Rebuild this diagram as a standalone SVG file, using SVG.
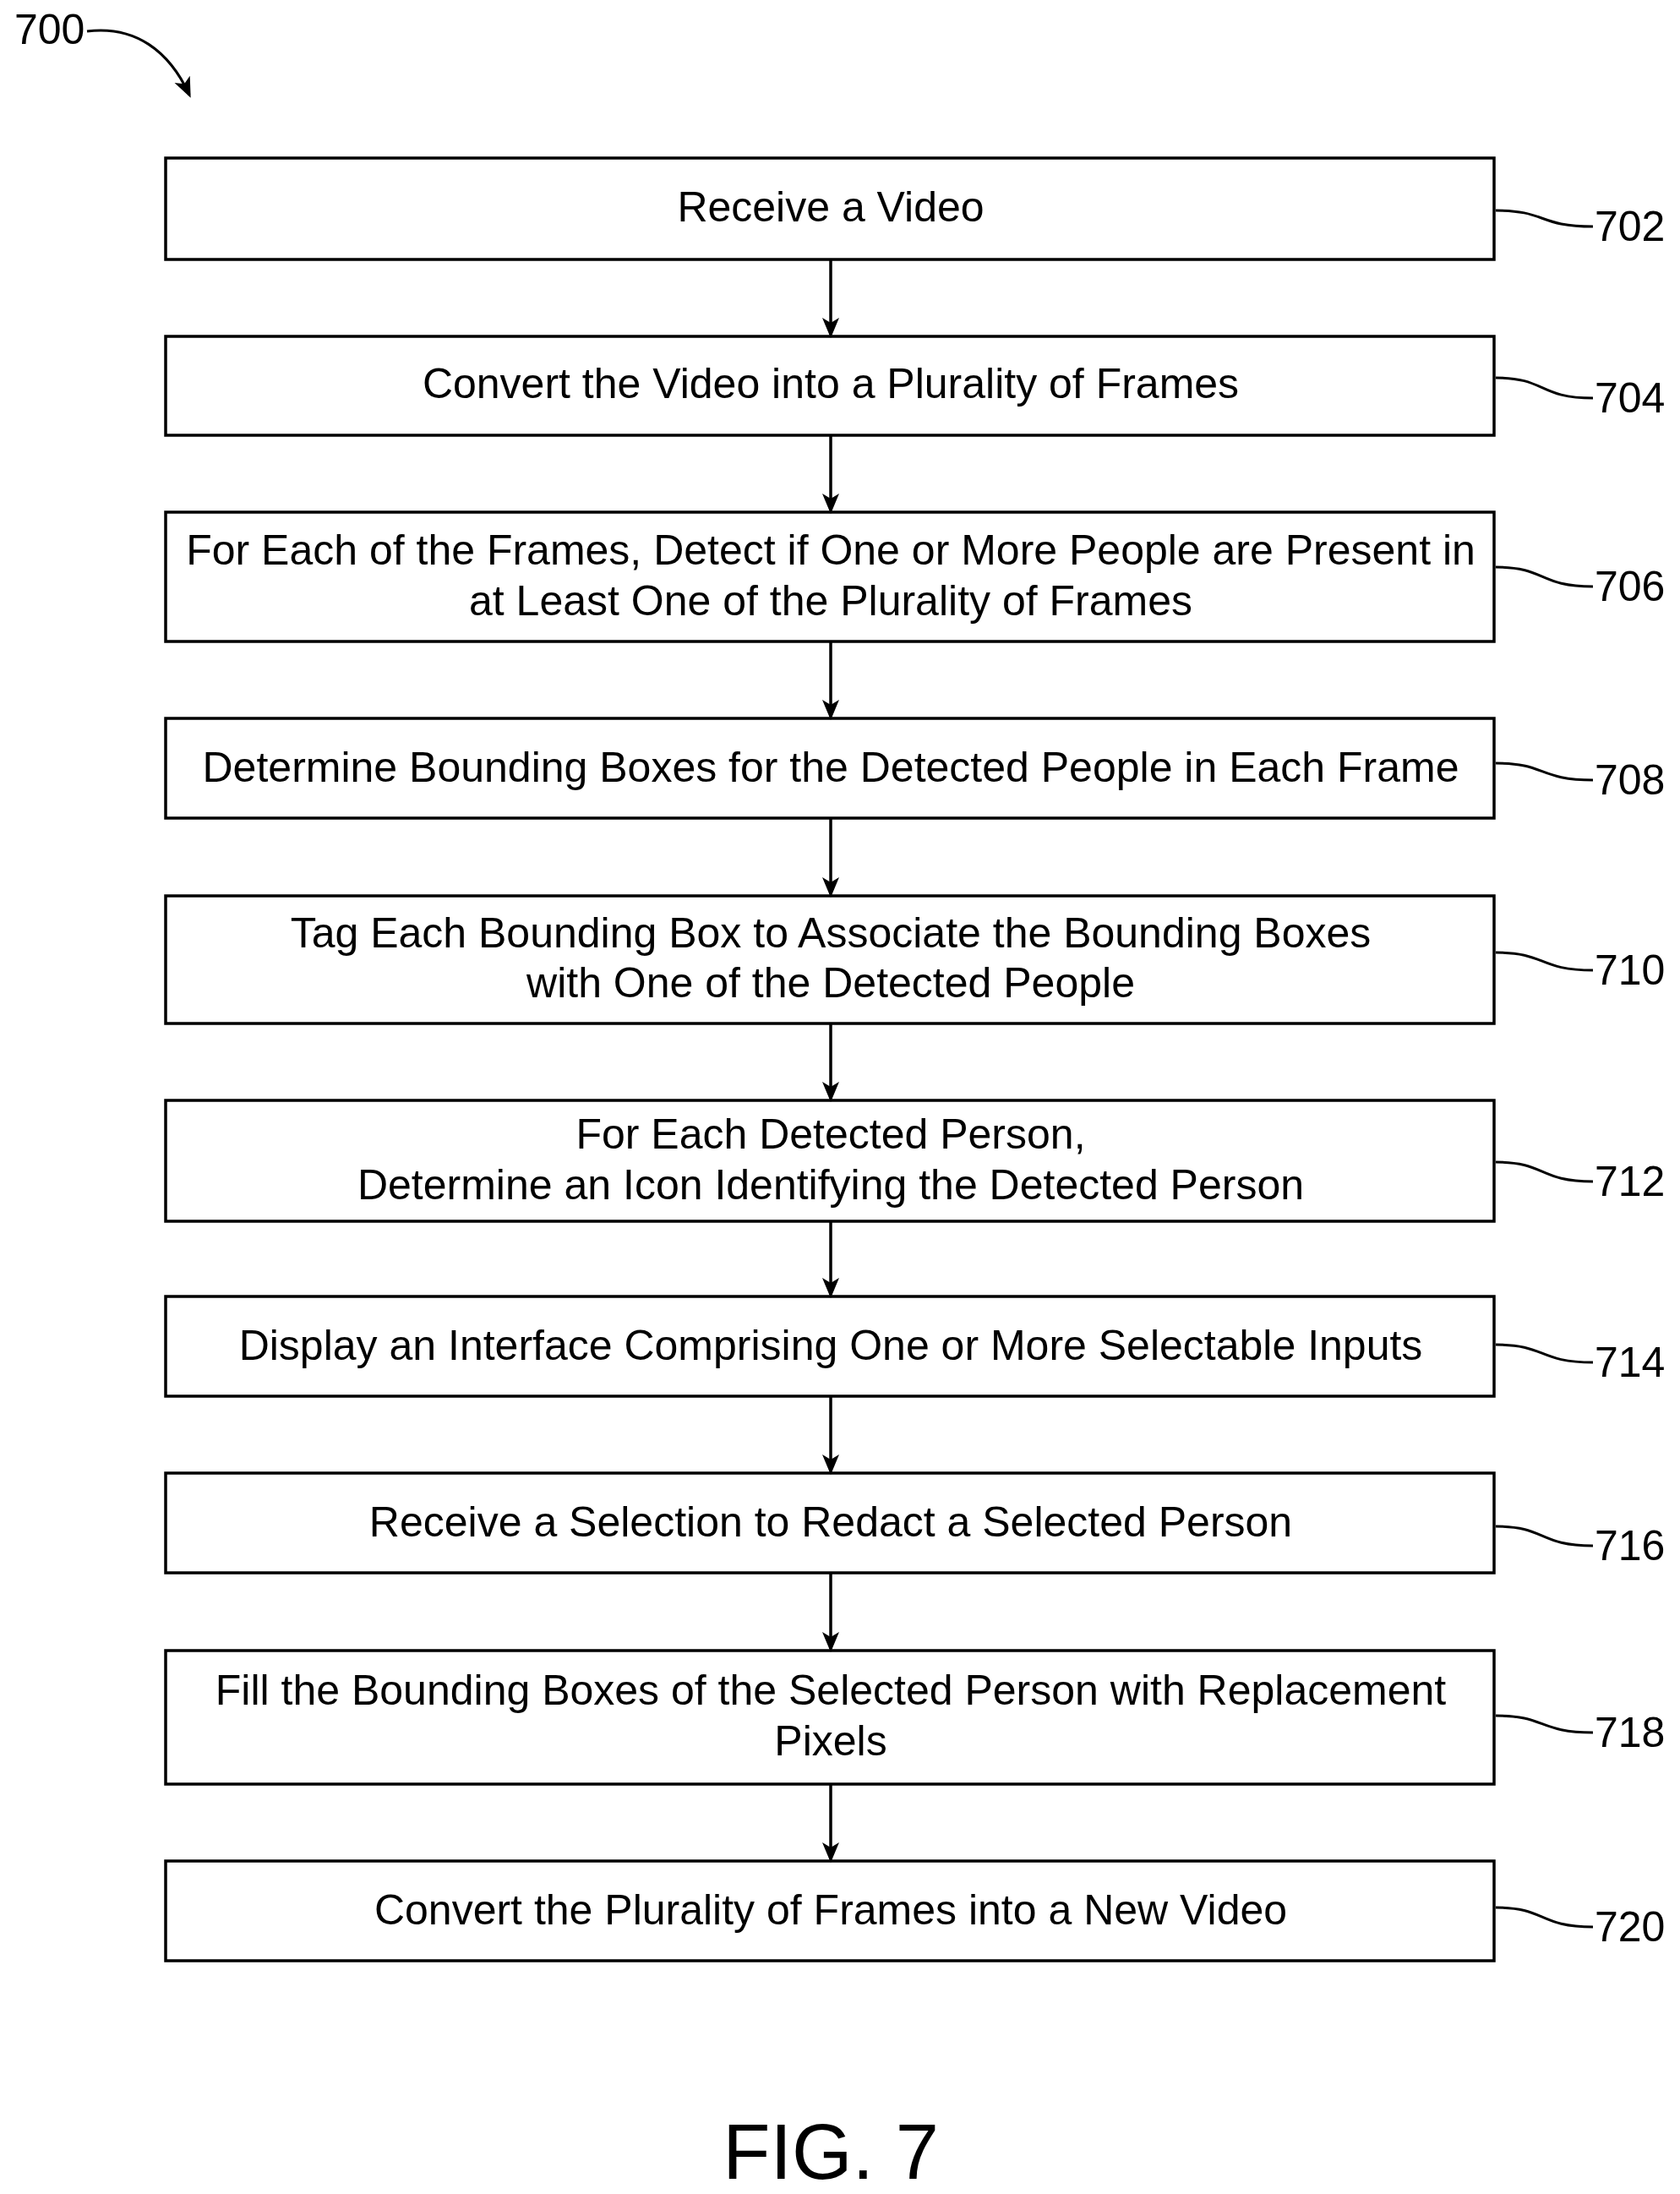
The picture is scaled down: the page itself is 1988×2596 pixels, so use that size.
<svg xmlns="http://www.w3.org/2000/svg" width="1988" height="2596" viewBox="0 0 1988 2596">
<style>
rect{fill:#fff;stroke:#000;stroke-width:3.5}
text{font-family:"Liberation Sans",Arial,sans-serif;font-size:50px;fill:#000}
.t{text-anchor:middle;dominant-baseline:central}
.c{fill:none;stroke:#000;stroke-width:3.5}
.l{fill:none;stroke:#000;stroke-width:3}
</style>
<defs>
<marker id="b" markerWidth="24" markerHeight="24" refX="20" refY="12" orient="auto" markerUnits="userSpaceOnUse"><path d="M0,2 L24,12 L0,22 L6,12 z"/></marker></defs>
<rect style="stroke:none" x="0" y="0" width="1988" height="2596"/>
<text x="17" y="52">700</text>
<path class="l" d="M103,37 C160,30 200,60 224,112" marker-end="url(#b)"/>
<g id="n702"><rect x="196" y="187" width="1572" height="120"/><text class="t" x="983" y="245">Receive a Video</text></g>
<g id="n704"><rect x="196" y="398" width="1572" height="117"/><text class="t" x="983" y="454">Convert the Video into a Plurality of Frames</text></g>
<g id="n706"><rect x="196" y="606" width="1572" height="153"/><text class="t" x="983" y="651">For Each of the Frames, Detect if One or More People are Present in</text><text class="t" x="983" y="711">at Least One of the Plurality of Frames</text></g>
<g id="n708"><rect x="196" y="850" width="1572" height="118"/><text class="t" x="983" y="908">Determine Bounding Boxes for the Detected People in Each Frame</text></g>
<g id="n710"><rect x="196" y="1060" width="1572" height="151"/><text class="t" x="983" y="1104">Tag Each Bounding Box to Associate the Bounding Boxes</text><text class="t" x="983" y="1163">with One of the Detected People</text></g>
<g id="n712"><rect x="196" y="1302" width="1572" height="143"/><text class="t" x="983" y="1342">For Each Detected Person,</text><text class="t" x="983" y="1402">Determine an Icon Identifying the Detected Person</text></g>
<g id="n714"><rect x="196" y="1534" width="1572" height="118"/><text class="t" x="983" y="1592">Display an Interface Comprising One or More Selectable Inputs</text></g>
<g id="n716"><rect x="196" y="1743" width="1572" height="118"/><text class="t" x="983" y="1801">Receive a Selection to Redact a Selected Person</text></g>
<g id="n718"><rect x="196" y="1953" width="1572" height="158"/><text class="t" x="983" y="2000">Fill the Bounding Boxes of the Selected Person with Replacement</text><text class="t" x="983" y="2060">Pixels</text></g>
<g id="n720"><rect x="196" y="2202" width="1572" height="118"/><text class="t" x="983" y="2260">Convert the Plurality of Frames into a New Video</text></g>
<g id="connectors">
<path class="c" d="M983,307 V396" marker-end="url(#b)"/>
<path class="c" d="M983,515 V604" marker-end="url(#b)"/>
<path class="c" d="M983,759 V848" marker-end="url(#b)"/>
<path class="c" d="M983,968 V1058" marker-end="url(#b)"/>
<path class="c" d="M983,1211 V1300" marker-end="url(#b)"/>
<path class="c" d="M983,1445 V1532" marker-end="url(#b)"/>
<path class="c" d="M983,1652 V1741" marker-end="url(#b)"/>
<path class="c" d="M983,1861 V1951" marker-end="url(#b)"/>
<path class="c" d="M983,2111 V2200" marker-end="url(#b)"/>
</g>
<g id="labels">
<path class="l" d="M1770,249 C1830,249 1820,268 1885,268"/><text x="1887" y="285">702</text>
<path class="l" d="M1770,447 C1830,447 1820,471 1885,471"/><text x="1887" y="488">704</text>
<path class="l" d="M1770,671 C1830,671 1820,694 1885,694"/><text x="1887" y="711">706</text>
<path class="l" d="M1770,903 C1830,903 1820,923 1885,923"/><text x="1887" y="940">708</text>
<path class="l" d="M1770,1127 C1830,1127 1820,1148 1885,1148"/><text x="1887" y="1165">710</text>
<path class="l" d="M1770,1375 C1830,1375 1820,1398 1885,1398"/><text x="1887" y="1415">712</text>
<path class="l" d="M1770,1591 C1830,1591 1820,1612 1885,1612"/><text x="1887" y="1629">714</text>
<path class="l" d="M1770,1806 C1830,1806 1820,1829 1885,1829"/><text x="1887" y="1846">716</text>
<path class="l" d="M1770,2030 C1830,2030 1820,2050 1885,2050"/><text x="1887" y="2067">718</text>
<path class="l" d="M1770,2257 C1830,2257 1820,2280 1885,2280"/><text x="1887" y="2297">720</text>
</g>
<text x="983" y="2578" style="font-size:92px;text-anchor:middle">FIG. 7</text>
</svg>
